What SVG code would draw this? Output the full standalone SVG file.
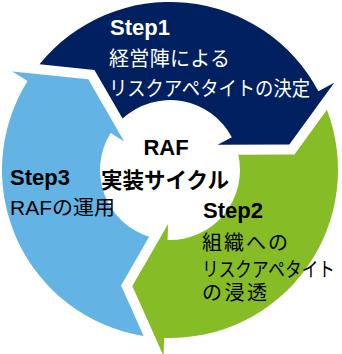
<svg xmlns="http://www.w3.org/2000/svg" xmlns:xlink="http://www.w3.org/1999/xlink" width="342" height="354" viewBox="0 0 342 354">
<style>
.bold{font-family:"Liberation Sans","Noto Sans CJK JP",sans-serif;font-weight:bold;font-size:22px}
.jp{font-family:"Liberation Sans","Noto Sans CJK JP",sans-serif;font-size:20px}
.w{fill:#ffffff}
.k{fill:#000000}
</style>
<defs>
<path id="arrow" d="M -65.57 -154.7 A 168 168 0 0 1 168 0 L 186 0 L 117.3 33.6 L 54 0 L 70 0 A 70 70 0 0 0 -17.74 -67.71 L -19.74 -123.85 Z"/>
</defs>
<rect width="342" height="354" fill="#ffffff"/>
<g id="step3">
<use xlink:href="#arrow" href="#arrow" transform="translate(170 170) rotate(-148)" fill="#63B4E4"/>
<text class="bold k" x="10" y="185">Step3</text>
<text class="jp k" x="10" y="215" textLength="105" lengthAdjust="spacingAndGlyphs">RAFの運用</text>
</g>
<g id="step1">
<use xlink:href="#arrow" href="#arrow" transform="translate(170 170) rotate(-28)" fill="#002060"/>
<text class="bold w" x="110" y="35">Step1</text>
<text class="jp w" x="109" y="66" textLength="121">経営陣による</text>
<text class="jp w" x="109" y="96" textLength="201" lengthAdjust="spacingAndGlyphs">リスクアペタイトの決定</text>
</g>
<g id="step2">
<use xlink:href="#arrow" href="#arrow" transform="translate(170 170) rotate(92)" fill="#86BC25"/>
<text class="bold k" x="203" y="218">Step2</text>
<text class="jp k" x="202" y="250" textLength="86">組織への</text>
<text class="jp k" x="202" y="277" textLength="133" lengthAdjust="spacingAndGlyphs">リスクアペタイト</text>
<text class="jp k" x="202" y="300" textLength="65">の浸透</text>
</g>
<g id="center">
<text class="bold k" x="166" y="155" text-anchor="middle">RAF</text>
<text class="bold k" x="165" y="188" text-anchor="middle" textLength="128" lengthAdjust="spacingAndGlyphs">実装サイクル</text>
</g>
<g id="connectors"/>
</svg>
